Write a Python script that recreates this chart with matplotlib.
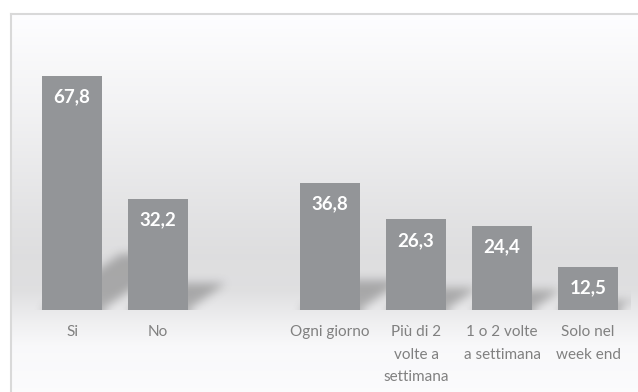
import numpy as np
import matplotlib
matplotlib.use("Agg")
import matplotlib.pyplot as plt
from matplotlib.path import Path

plt.rcParams['font.family'] = ['Lato', 'DejaVu Sans']

categories = ["Si", "No", "", "Ogni giorno", "Più di 2\nvolte a\nsettimana",
              "1 o 2 volte\na settimana", "Solo nel\nweek end"]
values = [67.8, 32.2, np.nan, 36.8, 26.3, 24.4, 12.5]

BAR = '#939598'
LABEL = '#808080'
W, H = 638, 392


def box_blur(a, r, passes=3):
    # separable box filter, repeated to approximate a gaussian
    for _ in range(passes):
        for axis in (0, 1):
            pad = [(0, 0), (0, 0)]
            pad[axis] = (r + 1, r)
            c = np.cumsum(np.pad(a, pad, mode='edge'), axis=axis)
            if axis == 0:
                a = (c[2 * r + 1:] - c[:-2 * r - 1]) / (2 * r + 1)
            else:
                a = (c[:, 2 * r + 1:] - c[:, :-2 * r - 1]) / (2 * r + 1)
    return a


fig = plt.figure(figsize=(W / 100, H / 100), dpi=100)
fig.patch.set_facecolor('white')

# chart area background with a soft vertical gradient
bg = fig.add_axes([10 / W, 0, 1 - 10 / W, 378 / H])
ys = np.linspace(0, 1, 400)
stops_y = [0.0, 0.12, 0.18, 0.27, 0.36, 0.45, 0.75, 1.0]
stops_v = [0.985, 0.975, 0.94, 0.875, 0.87, 0.885, 0.95, 0.995]
g = np.interp(ys, stops_y, stops_v)
grad = np.dstack([g, g, g * 1.004 + 0.002]).clip(0, 1)
grad = np.repeat(grad.reshape(-1, 1, 3), 2, axis=1)
bg.imshow(grad, aspect='auto', extent=[0, 1, 0, 1], origin='lower')
bg.set_xlim(0, 1)
bg.set_ylim(0, 1)
bg.set_axis_off()
fig.add_artist(plt.Line2D([10.5 / W, 10.5 / W], [0, 1 - 14 / H],
                          color='#d9d9d9', lw=1.5))
fig.add_artist(plt.Line2D([10.5 / W, 1], [1 - 14 / H, 1 - 14 / H],
                          color='#d9d9d9', lw=1.5))

ax = fig.add_axes([29 / W, 82 / H, 602 / W, 276 / H])
ax.set_facecolor('none')
x = np.arange(len(categories))
ymax = 80
width = 0.7
ax.set_xlim(-0.5, len(categories) - 0.5)
ax.set_ylim(0, ymax)

# perspective shadows cast behind each bar, blurred
nx, ny = 602, 276
ppx = nx / len(categories)
ppy = ny / ymax
gx, gy = np.meshgrid(np.arange(nx) + 0.5, np.arange(ny) + 0.5)
pts = np.column_stack([gx.ravel(), gy.ravel()])
mask = np.zeros(ny * nx)
for xi, v in zip(x, values):
    if np.isnan(v):
        continue
    xl = (xi - width / 2 + 0.5) * ppx
    xr = (xi + width / 2 + 0.5) * ppx
    sh_h = 0.24 * v * ppy
    sh_dx = 1.4 * sh_h
    poly = Path([(xl, 0), (xr, 0), (xr + sh_dx, sh_h), (xl + sh_dx, sh_h)])
    mask = np.maximum(mask, poly.contains_points(pts))
mask = box_blur(mask.reshape(ny, nx), 4)
shadow = np.zeros((ny, nx, 4))
shadow[..., :3] = 0.3
shadow[..., 3] = mask * 0.38
ax.imshow(shadow, aspect='auto', origin='lower',
          extent=[-0.5, len(categories) - 0.5, 0, ymax], zorder=1)

bars = ax.bar(x, values, width=width, color=BAR, zorder=2)
for xi, v in zip(x, values):
    if np.isnan(v):
        continue
    ax.annotate(f"{v:.1f}".replace('.', ','), (xi, v), xytext=(0, -9),
                textcoords='offset points', ha='center', va='top',
                color='white', fontsize=13.5, fontweight='bold', zorder=3)

ax.set_xticks(x)
ax.set_xticklabels(categories, color=LABEL, fontsize=11, linespacing=1.75)
ax.tick_params(axis='x', length=0, pad=11)
ax.set_yticks([])
for s in ax.spines.values():
    s.set_visible(False)

fig.savefig('out.png', dpi=100)
